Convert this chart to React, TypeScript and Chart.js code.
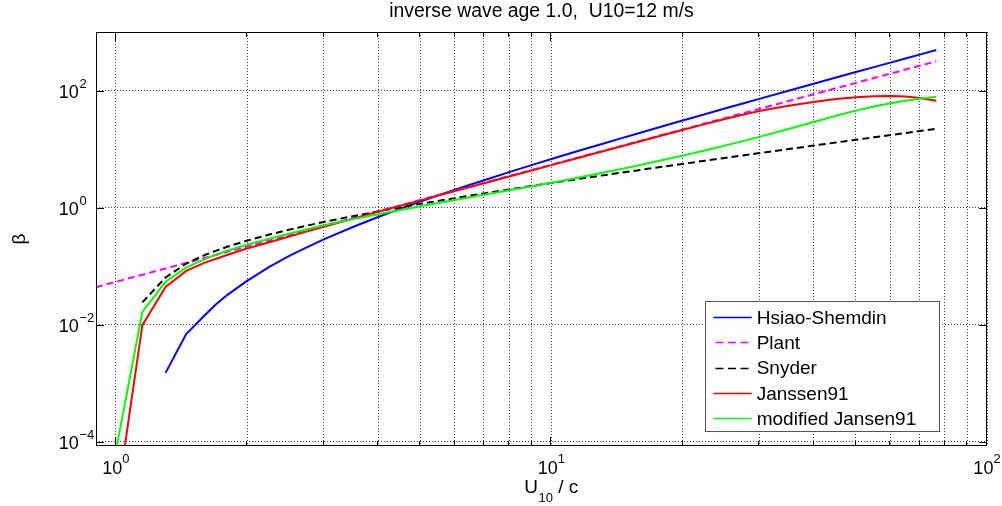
import React, { useEffect, useRef } from "react";
import { Chart, registerables } from "chart.js";

Chart.register(...registerables);

// ---------------- data ----------------
const TITLE = "inverse wave age 1.0,  U10=12 m/s";
const SERIES_LABELS = ["Hsiao-Shemdin", "Plant", "Snyder", "Janssen91", "modified Jansen91"];

const U10_OVER_C = [0.9, 1.0, 1.15, 1.3, 1.45, 1.6, 1.7, 1.8, 2, 2.25, 2.5, 2.75, 3, 3.5, 4, 4.5, 5, 6, 7, 8, 9, 10, 11.5, 13, 14.5, 16, 18, 20, 22.5, 25, 27.5, 30, 35, 40, 45, 50, 55, 60, 65, 70, 76.5];

const HSIAO_SHEMDIN = [null, null, null, 0.0015, 0.0069, 0.0145, 0.0225, 0.032, 0.056, 0.097, 0.15, 0.212, 0.286, 0.466, 0.69, 0.958, 1.267, 2.017, 2.94, 4.037, 5.307, 6.75, 9.24, 12.12, 15.39, 19.05, 24.54, 30.72, 39.42, 49.2, 60.08, 72.03, 99.19, 130.7, 166.5, 206.7, 251.2, 300, 353.2, 410.7, 491.9];
const PLANT = [0.0437, 0.054, 0.0714, 0.0913, 0.1135, 0.1382, 0.1561, 0.175, 0.216, 0.2734, 0.3375, 0.4084, 0.486, 0.6615, 0.864, 1.0935, 1.35, 1.944, 2.646, 3.456, 4.374, 5.4, 7.14, 9.126, 11.35, 13.82, 17.5, 21.6, 27.34, 33.75, 40.84, 48.6, 66.15, 86.4, 109.4, 135, 163.4, 194.4, 228.2, 264.6, 316];
const SNYDER = [null, null, 0.024, 0.064, 0.1105, 0.1547, 0.1842, 0.2137, 0.2726, 0.3463, 0.42, 0.4937, 0.5674, 0.7148, 0.8622, 1.0096, 1.157, 1.452, 1.747, 2.041, 2.336, 2.631, 3.073, 3.516, 3.958, 4.4, 4.99, 5.579, 6.316, 7.053, 7.79, 8.527, 10.0, 11.48, 12.95, 14.42, 15.9, 17.37, 18.85, 20.32, 22.24];
const JANSSEN91 = [null, 7.6e-6, 0.0098, 0.044, 0.083, 0.115, 0.134, 0.155, 0.2, 0.2556, 0.32, 0.392, 0.471, 0.645, 0.847, 1.074, 1.328, 1.915, 2.606, 3.404, 4.308, 5.319, 7.03, 8.99, 11.18, 13.61, 17.24, 21.2, 26.7, 32.6, 38.6, 44.6, 54.8, 63.8, 71.4, 76.9, 79.9, 80.6, 78.7, 74.4, 66.9];
const MOD_JANSSEN91 = [null, 7e-5, 0.0165, 0.054, 0.094, 0.132, 0.157, 0.183, 0.232, 0.2934, 0.358, 0.427, 0.5, 0.635, 0.771, 0.909, 1.051, 1.347, 1.654, 1.973, 2.305, 2.657, 3.24, 3.885, 4.59, 5.36, 6.49, 7.73, 9.48, 11.45, 13.66, 16.14, 21.98, 28.97, 36.97, 45.4, 53.5, 60.7, 66.9, 72.3, 78.5];

const X_MIN = 0.9;
const X_MAX = 100;
const Y_MIN = 8.45e-5;
const Y_MAX = 1000;

const X_GRID = [1, 2, 3, 4, 5, 6, 7, 8, 9, 10, 20, 30, 40, 50, 60, 70, 80, 90, 100];
const X_MAJOR = [1, 10, 100];
const X_EXPONENTS = ["0", "1", "2"];
const Y_MAJOR = [1e-4, 1e-2, 1, 1e2];
const Y_EXPONENTS = ["\u22124", "\u22122", "0", "2"];

// ---------------- helpers ----------------
const FONT_FAMILY = "'Liberation Sans', Arial, Helvetica, sans-serif";

function toPoints(ys: (number | null)[]) {
  const pts: { x: number; y: number }[] = [];
  ys.forEach((y, i) => {
    if (y !== null) pts.push({ x: U10_OVER_C[i], y });
  });
  return pts;
}

const decorations = {
  id: "decorations",
  afterDraw(chart: any) {
    const { ctx, chartArea: a, scales } = chart;
    const xs = scales.x;
    const ys = scales.y;
    ctx.save();

    // axes box
    ctx.setLineDash([]);
    ctx.strokeStyle = "#000";
    ctx.lineWidth = 1;
    ctx.strokeRect(a.left + 0.5, a.top + 0.5, a.right - a.left - 1, a.bottom - a.top - 1);

    // inward tick marks
    ctx.beginPath();
    X_GRID.forEach((v) => {
      const px = Math.round(xs.getPixelForValue(v)) - 0.5;
      const len = X_MAJOR.includes(v) ? 9 : 5;
      ctx.moveTo(px, a.bottom);
      ctx.lineTo(px, a.bottom - len);
      ctx.moveTo(px, a.top);
      ctx.lineTo(px, a.top + len);
    });
    Y_MAJOR.forEach((v) => {
      const py = Math.round(ys.getPixelForValue(v)) + 0.5;
      ctx.moveTo(a.left, py);
      ctx.lineTo(a.left + 8, py);
      ctx.moveTo(a.right, py);
      ctx.lineTo(a.right - 8, py);
    });
    ctx.stroke();

    const big = `18px ${FONT_FAMILY}`;
    const small = `13px ${FONT_FAMILY}`;
    ctx.fillStyle = "#000";
    ctx.textBaseline = "alphabetic";

    // y tick labels
    Y_MAJOR.forEach((v, i) => {
      const py = ys.getPixelForValue(v);
      ctx.font = big;
      ctx.textAlign = "right";
      ctx.fillText("10", a.left - 17.3, py + 7.3);
      ctx.font = small;
      ctx.textAlign = "left";
      ctx.fillText(Y_EXPONENTS[i], a.left - 16.5, py - 2.7);
    });

    // x tick labels
    X_MAJOR.forEach((v, i) => {
      const px = xs.getPixelForValue(v);
      ctx.font = big;
      const w1 = ctx.measureText("10").width;
      ctx.font = small;
      const w2 = ctx.measureText(X_EXPONENTS[i]).width;
      const start = px - (w1 + w2) / 2;
      ctx.textAlign = "left";
      ctx.font = big;
      ctx.fillText("10", start, a.bottom + 28);
      ctx.font = small;
      ctx.fillText(X_EXPONENTS[i], start + w1, a.bottom + 17.3);
    });

    // title
    ctx.font = `19.4px ${FONT_FAMILY}`;
    ctx.textAlign = "center";
    ctx.fillText(TITLE, (a.left + a.right) / 2, 17.3);

    // x axis title: U_10 / c
    const f19 = `19px ${FONT_FAMILY}`;
    ctx.font = f19;
    const wU = ctx.measureText("U").width;
    const wRest = ctx.measureText(" / c").width;
    ctx.font = small;
    const wSub = ctx.measureText("10").width;
    const total = wU + wSub + wRest;
    let sx = 551 - total / 2;
    ctx.textAlign = "left";
    ctx.font = f19;
    ctx.fillText("U", sx, a.bottom + 46.7);
    sx += wU + 0.5;
    ctx.font = small;
    ctx.fillText("10", sx, a.bottom + 55.7);
    sx += wSub;
    ctx.font = f19;
    ctx.fillText(" / c", sx, a.bottom + 46.7);

    // y axis title
    ctx.save();
    ctx.translate(20, (a.top + a.bottom) / 2);
    ctx.rotate(-Math.PI / 2);
    ctx.textAlign = "center";
    ctx.textBaseline = "middle";
    ctx.font = f19;
    ctx.fillText("\u03b2", 0, 0);
    ctx.restore();

    // legend
    const lx = a.right - 281.5;
    const ly = a.bottom - 144.5;
    const lw = 234;
    const lh = 130;
    ctx.fillStyle = "#fff";
    ctx.fillRect(lx, ly, lw, lh);
    ctx.strokeStyle = "#555";
    ctx.lineWidth = 1;
    ctx.setLineDash([]);
    ctx.strokeRect(lx, ly, lw, lh);
    chart.data.datasets.forEach((ds: any, i: number) => {
      const cy = ly + 15.5 + i * 25.25;
      const dashed = ds.borderDash && ds.borderDash.length;
      ctx.beginPath();
      ctx.strokeStyle = ds.borderColor;
      ctx.lineWidth = 1.5;
      ctx.setLineDash(dashed ? [8, 4.5] : []);
      const x0 = dashed ? lx + 10 : lx + 7.8;
      ctx.moveTo(x0, Math.round(cy) + 0.5);
      ctx.lineTo(lx + 46.2, Math.round(cy) + 0.5);
      ctx.stroke();
      ctx.setLineDash([]);
      ctx.fillStyle = "#000";
      ctx.font = f19;
      ctx.textAlign = "left";
      ctx.textBaseline = "alphabetic";
      ctx.fillText(ds.label, lx + 51.2, cy + 6.8);
    });

    ctx.restore();
  },
};

export default function App() {
  const canvasRef = useRef<HTMLCanvasElement | null>(null);

  useEffect(() => {
    const canvas = canvasRef.current;
    if (!canvas) return;
    const seriesValues = [HSIAO_SHEMDIN, PLANT, SNYDER, JANSSEN91, MOD_JANSSEN91];
    const colors = ["#0000ff", "#ff00ff", "#000000", "#ff0000", "#00ff00"];
    const dashes = [[], [7, 4], [7, 4], [], []];

    const chart = new Chart(canvas, {
      type: "line",
      data: {
        datasets: seriesValues.map((vals, i) => ({
          label: SERIES_LABELS[i],
          data: toPoints(vals),
          borderColor: colors[i],
          backgroundColor: colors[i],
          borderWidth: 2,
          borderDash: dashes[i],
          pointRadius: 0,
          tension: 0,
          fill: false,
          order: 5 - i,
        })),
      },
      options: {
        responsive: false,
        animation: false,
        devicePixelRatio: 1,
        events: [],
        parsing: false as any,
        normalized: true,
        layout: { padding: { top: 32, right: 15, left: 0, bottom: 0 } },
        plugins: {
          legend: { display: false },
          title: { display: false },
          tooltip: { enabled: false },
        },
        scales: {
          x: {
            type: "logarithmic",
            position: "bottom",
            min: X_MIN,
            max: X_MAX,
            afterFit: (s: any) => {
              s.height = 60;
            },
            afterBuildTicks: (s: any) => {
              s.ticks = X_GRID.map((v) => ({ value: v }));
            },
            ticks: { display: false },
            grid: { color: "rgba(0,0,0,0.75)", lineWidth: 1, drawTicks: false },
            border: { display: false, dash: [1, 2] },
          },
          y: {
            type: "logarithmic",
            position: "left",
            min: Y_MIN,
            max: Y_MAX,
            afterFit: (s: any) => {
              s.width = 96;
            },
            afterBuildTicks: (s: any) => {
              s.ticks = Y_MAJOR.map((v) => ({ value: v }));
            },
            ticks: { display: false },
            grid: { color: "rgba(0,0,0,0.75)", lineWidth: 1, drawTicks: false },
            border: { display: false, dash: [1, 2] },
          },
        },
      } as any,
      plugins: [decorations],
    });

    return () => {
      chart.destroy();
    };
  }, []);

  return (
    <div style={{ position: "absolute", left: 0, top: 0, width: 1002, height: 506, background: "#fff" }}>
      <canvas ref={canvasRef} width={1002} height={506} style={{ display: "block" }} />
    </div>
  );
}
